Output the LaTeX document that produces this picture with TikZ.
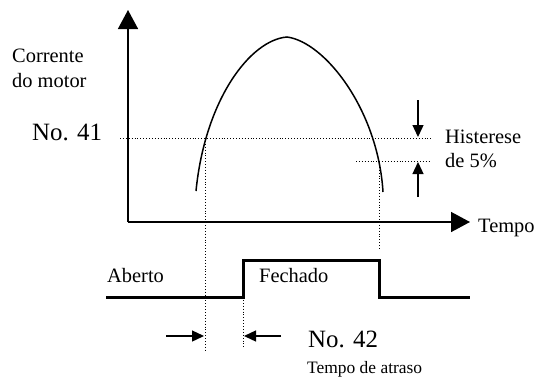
\documentclass[tikz,border=0pt]{standalone}
\usepackage{fontspec}
\setmainfont{Liberation Serif}
\usetikzlibrary{arrows.meta}
\tikzset{
  axis/.style={line width=1.5bp, -{Triangle[length=19bp,width=20bp]}},
  curve/.style={line width=1.5bp},
  pulse/.style={line width=3bp},
  guide/.style={line width=0.9bp, dash pattern=on 0.9bp off 2bp},
  sarrow/.style={line width=1.3bp, -{Triangle[length=12bp,width=11bp]}},
  lbl/.style={inner sep=0pt, anchor=base west, font=\fontsize{20.5}{24}\selectfont},
  biglbl/.style={inner sep=0pt, anchor=base west, font=\fontsize{25}{30}\selectfont},
  smalllbl/.style={inner sep=0pt, anchor=base west, font=\fontsize{17.5}{21}\selectfont}
}
\begin{document}
\begin{tikzpicture}[x=1bp,y=-1bp]
\useasboundingbox (0,0) rectangle (537,376);
% axes
\coordinate (o) at (128,222);
\coordinate (ytop) at (128,10);
\coordinate (xend) at (470,222);
\draw[axis] (o) -- (ytop);
\draw[axis] (o) -- (xend);
% current curve
\coordinate (cl) at (196,191);
\coordinate (pk) at (287,37);
\coordinate (cr) at (383,192);
\draw[curve] (cl) .. controls (205,100) and (250,40) .. (pk)
                  .. controls (325,42) and (378,110) .. (cr);
% guides
\coordinate (g41a) at (120,138);
\coordinate (g41b) at (433,138);
\coordinate (ghya) at (356,161);
\coordinate (ghyb) at (431,161);
\coordinate (v1a) at (205,138);
\coordinate (v1b) at (205,350);
\coordinate (v2a) at (243,297);
\coordinate (v2b) at (243,348);
\coordinate (v3a) at (379,161);
\coordinate (v3b) at (379,250);
\draw[guide] (g41a) -- (g41b);
\draw[guide] (ghya) -- (ghyb);
\draw[guide] (v1a) -- (v1b);
\draw[guide] (v2a) -- (v2b);
\draw[guide] (v3a) -- (v3b);
% hysteresis arrows
\coordinate (h1a) at (418,100);
\coordinate (h1b) at (418,137);
\coordinate (h2a) at (418,197);
\coordinate (h2b) at (418,162);
\draw[sarrow] (h1a) -- (h1b);
\draw[sarrow] (h2a) -- (h2b);
% pulse
\coordinate (p0) at (106,297);
\coordinate (p1) at (243,297);
\coordinate (p2) at (243,260);
\coordinate (p3) at (379,260);
\coordinate (p4) at (379,297);
\coordinate (p5) at (470,297);
\draw[pulse] (p0) -- (p1) -- (p2) -- (p3) -- (p4) -- (p5);
% delay arrows
\coordinate (d1a) at (166,336);
\coordinate (d1b) at (204,336);
\coordinate (d2a) at (281,336);
\coordinate (d2b) at (244,336);
\draw[sarrow] (d1a) -- (d1b);
\draw[sarrow] (d2a) -- (d2b);
% labels
\node[lbl] (corrente) at (12,62) {Corrente};
\node[lbl] (domotor) at (12,87) {do motor};
\node[biglbl] (no41) at (32,140) {No. 41};
\node[lbl] (hist) at (445,143) {Histerese};
\node[lbl] (de5) at (445,167) {de 5\%};
\node[lbl] (tempo) at (478,232) {Tempo};
\node[lbl] (aberto) at (107,282) {Aberto};
\node[lbl] (fechado) at (259,282) {Fechado};
\node[biglbl] (no42) at (308,347) {No. 42};
\node[smalllbl] (atraso) at (307,373) {Tempo de atraso};
\end{tikzpicture}
\end{document}
